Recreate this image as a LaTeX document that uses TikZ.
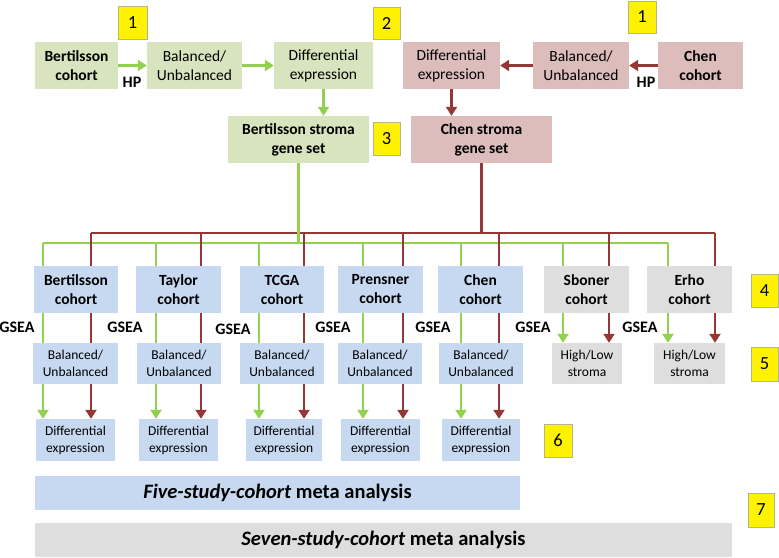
\documentclass[tikz,border=0pt]{standalone}
\usepackage{fontspec}
\setmainfont{Carlito}
\usetikzlibrary{arrows.meta}
\definecolor{lgreen}{HTML}{92D050}
\definecolor{dred}{HTML}{953735}
\definecolor{fgreen}{HTML}{D7E4BD}
\definecolor{fpink}{HTML}{DDBCBC}
\definecolor{fblue}{HTML}{C6D9F1}
\definecolor{fgray}{HTML}{DEDEDE}
\definecolor{ybord}{HTML}{B5B58A}
\tikzset{
  box/.style={inner sep=0pt, align=center, minimum height=47pt},
  bigtxt/.style={font=\fontsize{15.5}{19}\selectfont},
  smalltxt/.style={font=\fontsize{13.5}{17}\selectfont},
  gbox/.style={box, fill=fgreen},
  pbox/.style={box, fill=fpink},
  bbox/.style={box, fill=fblue},
  graybox/.style={box, fill=fgray},
  numbox/.style={fill=yellow, draw=ybord, line width=0.8pt, inner sep=0pt, font=\fontsize{18.5}{20}\selectfont},
  lbl/.style={font=\fontsize{16}{18}\selectfont\bfseries, inner sep=0pt},
  bartxt/.style={font=\fontsize{20.5}{22}\selectfont\bfseries},
  gl/.style={draw=lgreen, line width=2.6pt},
  rl/.style={draw=dred, line width=2.6pt},
  ga/.style={gl, -{Triangle[length=9pt,width=11pt]}},
  ra/.style={rl, -{Triangle[length=9pt,width=11pt]}},
}
\begin{document}
\begin{tikzpicture}[x=1pt,y=-1pt]
\useasboundingbox (0,0) rectangle (779,557);
% top row
\node[gbox,bigtxt,minimum width=83pt] (bc) at (76.5,65.5) {\bfseries Bertilsson\\\bfseries cohort};
\node[gbox,bigtxt,minimum width=95pt] (bb) at (194.5,65.5) {Balanced/\\Unbalanced};
\node[gbox,bigtxt,minimum width=99pt] (bd) at (323.5,65.5) {Differential\\expression};
\node[pbox,bigtxt,minimum width=97pt] (cd) at (451.5,65.5) {Differential\\expression};
\node[pbox,bigtxt,minimum width=96pt] (cb) at (581,65.5) {Balanced/\\Unbalanced};
\node[pbox,bigtxt,minimum width=85pt] (cc) at (700.5,65.5) {\bfseries Chen\\\bfseries cohort};
\node[gbox,bigtxt,minimum width=141pt] (bs) at (298.5,139.5) {\bfseries Bertilsson stroma\\\bfseries gene set};
\node[pbox,bigtxt,minimum width=141pt] (cs) at (481.5,139.5) {\bfseries Chen stroma\\\bfseries gene set};
\node[lbl] (hp1) at (132,82) {HP};
\node[lbl] (hp2) at (646,82) {HP};
\draw[ga] (bc) -- (bb);
\draw[ga] (bb) -- (bd);
\draw[ga] (bd.south) -- (bd.south |- bs.north);
\draw[ra] (cc) -- (cb);
\draw[ra] (cb) -- (cd);
\draw[ra] (cd.south) -- (cd.south |- cs.north);
% number boxes
\node[numbox,minimum width=29pt,minimum height=33pt] (n1a) at (132.5,22.5) {1};
\node[numbox,minimum width=27pt,minimum height=32pt] (n2) at (386.5,23) {2};
\node[numbox,minimum width=28pt,minimum height=32pt] (n1b) at (642,17) {1};
\node[numbox,minimum width=27pt,minimum height=33pt] (n3) at (386.5,138.5) {3};
\node[numbox,minimum width=27pt,minimum height=33pt] (n4) at (764.5,290.5) {4};
\node[numbox,minimum width=27pt,minimum height=34pt] (n5) at (764.5,364) {5};
\node[numbox,minimum width=28pt,minimum height=33pt] (n6) at (558,440.5) {6};
\node[numbox,minimum width=26pt,minimum height=34pt] (n7) at (761,510) {7};
% cohort row
\node[bbox,bigtxt,minimum width=84pt] (c1) at (76,289.5) {\bfseries Bertilsson\\\bfseries cohort};
\node[bbox,bigtxt,minimum width=85pt] (c2) at (178.5,289.5) {\bfseries Taylor\\\bfseries cohort};
\node[bbox,bigtxt,minimum width=84pt] (c3) at (282,289.5) {\bfseries TCGA\\\bfseries cohort};
\node[bbox,bigtxt,minimum width=85pt] (c4) at (380.5,289.5) {\bfseries Prensner\\\bfseries cohort};
\node[bbox,bigtxt,minimum width=85pt] (c5) at (480.5,289.5) {\bfseries Chen\\\bfseries cohort};
\node[graybox,bigtxt,minimum width=85pt] (c6) at (586.5,289.5) {\bfseries Sboner\\\bfseries cohort};
\node[graybox,bigtxt,minimum width=85pt] (c7) at (689.5,289.5) {\bfseries Erho\\\bfseries cohort};
% balanced row
\node[bbox,smalltxt,minimum width=85pt,minimum height=41pt] (b1) at (75.5,363.5) {Balanced/\\Unbalanced};
\node[bbox,smalltxt,minimum width=84pt,minimum height=41pt] (b2) at (179,363.5) {Balanced/\\Unbalanced};
\node[bbox,smalltxt,minimum width=84pt,minimum height=41pt] (b3) at (282,363.5) {Balanced/\\Unbalanced};
\node[bbox,smalltxt,minimum width=84pt,minimum height=41pt] (b4) at (380,363.5) {Balanced/\\Unbalanced};
\node[bbox,smalltxt,minimum width=84pt,minimum height=41pt] (b5) at (481,363.5) {Balanced/\\Unbalanced};
\node[graybox,smalltxt,minimum width=70pt,minimum height=41pt] (b6) at (587,363.5) {High/Low\\stroma};
\node[graybox,smalltxt,minimum width=71pt,minimum height=41pt] (b7) at (689.5,363.5) {High/Low\\stroma};
% diff row
\node[bbox,smalltxt,minimum width=79pt,minimum height=42pt] (d1) at (75.5,440) {Differential\\expression};
\node[bbox,smalltxt,minimum width=79pt,minimum height=42pt] (d2) at (178.5,440) {Differential\\expression};
\node[bbox,smalltxt,minimum width=76pt,minimum height=42pt] (d3) at (284,440) {Differential\\expression};
\node[bbox,smalltxt,minimum width=79pt,minimum height=42pt] (d4) at (380.5,440) {Differential\\expression};
\node[bbox,smalltxt,minimum width=78pt,minimum height=42pt] (d5) at (481,440) {Differential\\expression};
% bars
\node[bbox,bartxt,minimum width=485pt,minimum height=34pt] (five) at (277.5,493) {\itshape Five-study-cohort\upshape{} meta analysis};
\node[graybox,bartxt,minimum width=697pt,minimum height=34pt] (seven) at (383.5,540) {\itshape Seven-study-cohort\upshape{} meta analysis};
% GSEA labels
\node[lbl] (gs1) at (17,327) {GSEA};
\node[lbl] (gs2) at (125,327) {GSEA};
\node[lbl] (gs3) at (233,329) {GSEA};
\node[lbl] (gs4) at (333,327) {GSEA};
\node[lbl] (gs5) at (433,327) {GSEA};
\node[lbl] (gs6) at (533,327) {GSEA};
\node[lbl] (gs7) at (640,327) {GSEA};
% bus coordinates
\coordinate (g1) at (43,243); \coordinate (r1) at (91,233);
\coordinate (g2) at (156,243); \coordinate (r2) at (201,233);
\coordinate (g3) at (259,243); \coordinate (r3) at (304,233);
\coordinate (g4) at (363,243); \coordinate (r4) at (403,233);
\coordinate (g5) at (461,243); \coordinate (r5) at (499,233);
\coordinate (g6) at (563,243); \coordinate (r6) at (609,233);
\coordinate (g7) at (668,243); \coordinate (r7) at (715,233);
% buses
\draw[rl] (cs.south) -- (cs.south |- r1);
\draw[rl] (r1) -- (r7);
\draw[gl] (g1) -- (g7);
\draw[gl] (bs.south) -- (bs.south |- g1);
\foreach \i in {1,...,7}{
  \draw[gl] (g\i) -- (g\i |- c\i.north);
  \draw[rl] (r\i) -- (r\i |- c\i.north);
}
\foreach \i in {1,...,5}{
  \draw[gl] (g\i |- c\i.south) -- (g\i |- b\i.north);
  \draw[rl] (r\i |- c\i.south) -- (r\i |- b\i.north);
  \draw[ga] (g\i |- b\i.south) -- (g\i |- d\i.north);
  \draw[ra] (r\i |- b\i.south) -- (r\i |- d\i.north);
}
\foreach \i in {6,7}{
  \draw[ga] (g\i |- c\i.south) -- (g\i |- b\i.north);
  \draw[ra] (r\i |- c\i.south) -- (r\i |- b\i.north);
}
\end{tikzpicture}
\end{document}
